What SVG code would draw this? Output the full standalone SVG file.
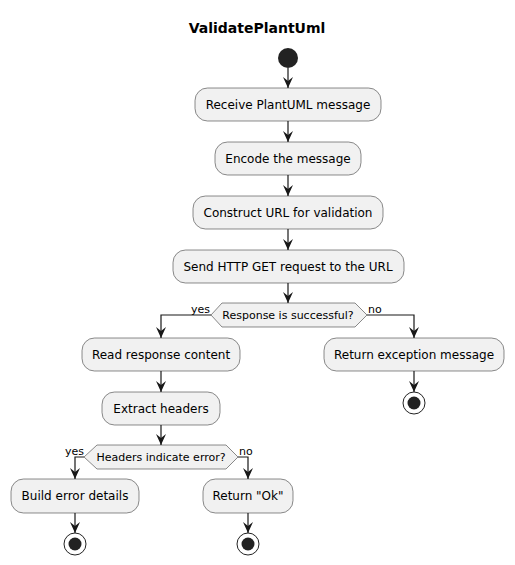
<svg xmlns="http://www.w3.org/2000/svg" width="515" height="565" viewBox="0 0 515 565">
<style>
.box{fill:#F1F1F1;stroke:#181818;stroke-width:0.5}
.t{font-family:"DejaVu Sans",sans-serif;font-size:12px;fill:#000;text-anchor:middle}
.dt{font-family:"DejaVu Sans",sans-serif;font-size:11px;fill:#000;text-anchor:middle}
.l{font-family:"DejaVu Sans",sans-serif;font-size:11px;fill:#000}
.c{fill:none;stroke:#181818;stroke-width:1.2;marker-end:url(#a)}
.start{fill:#222222}
.stopo{fill:none;stroke:#222222;stroke-width:1}
.stopi{fill:#222222}
</style>
<defs>
<marker id="a" markerUnits="userSpaceOnUse" markerWidth="11" markerHeight="10" refX="11" refY="5" orient="auto" viewBox="0 0 11 10">
<path d="M0,0 L11,5 L0,10 L4,5 Z" fill="#181818"/>
</marker>
</defs>
<text x="257" y="33" style="font-family:'DejaVu Sans',sans-serif;font-size:14px;font-weight:bold;text-anchor:middle">ValidatePlantUml</text>
<g id="connectors">
<path class="c" d="M288,68 V88"/>
<path class="c" d="M288,121 V142"/>
<path class="c" d="M288,175 V196"/>
<path class="c" d="M288,229 V250"/>
<path class="c" d="M288,283 V303"/>
<path class="c" d="M211,315 H161 V338"/>
<path class="c" d="M367,315 H414 V338"/>
<path class="c" d="M414,371 V392"/>
<path class="c" d="M161,371 V392"/>
<path class="c" d="M161,425 V445"/>
<path class="c" d="M84,457 H75 V479"/>
<path class="c" d="M238,457 H248 V479"/>
<path class="c" d="M75,513 V533"/>
<path class="c" d="M248,513 V533"/>
<text class="l" x="191" y="313">yes</text>
<text class="l" x="368" y="313">no</text>
<text class="l" x="65" y="455">yes</text>
<text class="l" x="239" y="455">no</text>
</g>
<g id="start"><circle class="start" cx="288" cy="58" r="10"/></g>
<g id="n1"><rect class="box" x="195" y="88" width="186" height="33" rx="12.5"/><text class="t" x="288" y="109">Receive PlantUML message</text></g>
<g id="n2"><rect class="box" x="215" y="142" width="146" height="33" rx="12.5"/><text class="t" x="288" y="163">Encode the message</text></g>
<g id="n3"><rect class="box" x="193" y="196" width="190" height="33" rx="12.5"/><text class="t" x="288" y="217">Construct URL for validation</text></g>
<g id="n4"><rect class="box" x="173" y="250" width="231" height="33" rx="12.5"/><text class="t" x="288" y="271">Send HTTP GET request to the URL</text></g>
<g id="d1"><polygon class="box" points="222,303 355,303 367,315 355,327 222,327 211,315"/><text class="dt" x="288" y="319">Response is successful?</text></g>
<g id="n5"><rect class="box" x="82" y="338" width="158" height="33" rx="12.5"/><text class="t" x="161" y="359">Read response content</text></g>
<g id="n6"><rect class="box" x="324" y="338" width="180" height="33" rx="12.5"/><text class="t" x="414" y="359">Return exception message</text></g>
<g id="stop1"><circle class="stopo" cx="414" cy="403" r="11"/><circle class="stopi" cx="414" cy="403" r="6.5"/></g>
<g id="n7"><rect class="box" x="102" y="392" width="118" height="33" rx="12.5"/><text class="t" x="161" y="413">Extract headers</text></g>
<g id="d2"><polygon class="box" points="97,445 226,445 238,457 226,469 97,469 84,457"/><text class="dt" x="161" y="461">Headers indicate error?</text></g>
<g id="n8"><rect class="box" x="11" y="479" width="128" height="34" rx="12.5"/><text class="t" x="75" y="500">Build error details</text></g>
<g id="n9"><rect class="box" x="203" y="479" width="90" height="34" rx="12.5"/><text class="t" x="248" y="500">Return "Ok"</text></g>
<g id="stop2"><circle class="stopo" cx="75" cy="544" r="11"/><circle class="stopi" cx="75" cy="544" r="6.5"/></g>
<g id="stop3"><circle class="stopo" cx="248" cy="544" r="11"/><circle class="stopi" cx="248" cy="544" r="6.5"/></g>
</svg>
